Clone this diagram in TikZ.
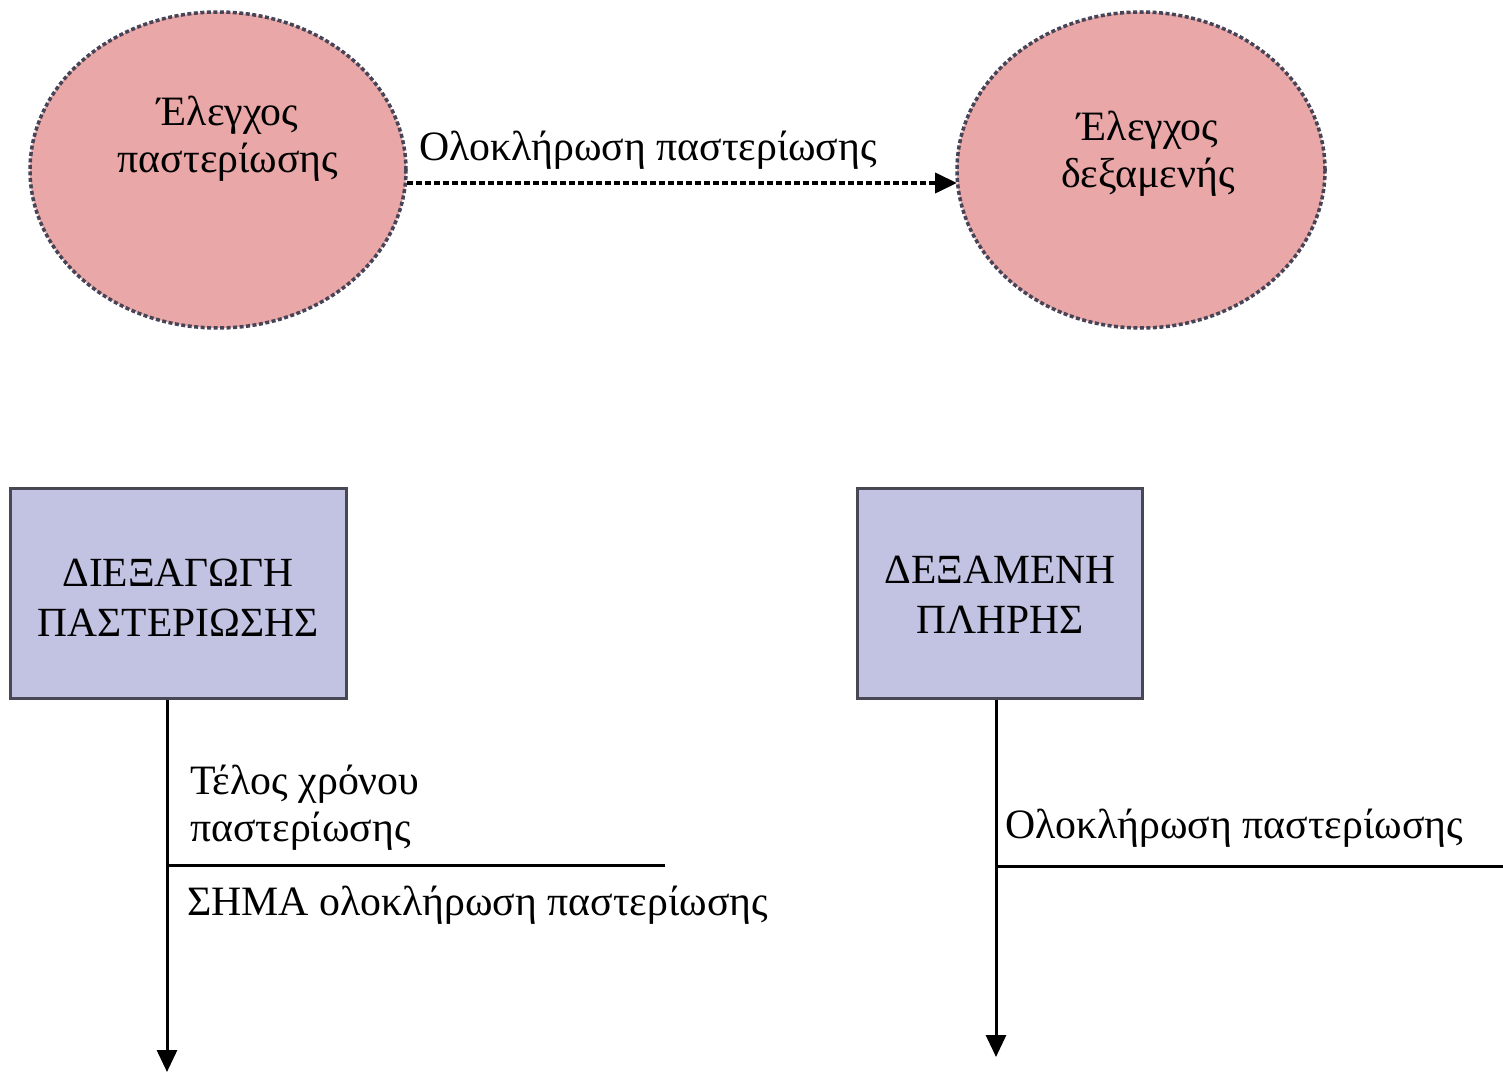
\documentclass[tikz,border=0pt]{standalone}
\usepackage{fontspec}
\setmainfont{Liberation Serif}
\usetikzlibrary{shapes.geometric,arrows.meta}
\definecolor{statefill}{RGB}{233,167,167}
\definecolor{stateline}{RGB}{70,68,86}
\definecolor{boxfill}{RGB}{194,194,226}
\definecolor{boxline}{RGB}{72,72,84}
\tikzset{
  statenode/.style={ellipse, fill=statefill, draw=stateline, line width=3.5pt,
    dash pattern=on 4pt off 2.5pt, inner sep=0pt},
  actbox/.style={rectangle, fill=boxfill, draw=boxline, line width=3pt, inner sep=0pt},
  lbl/.style={font=\fontsize{41.8}{47}\selectfont, inner sep=0pt},
  caps/.style={font=\fontsize{41.5}{50}\selectfont, inner sep=0pt},
  flow/.style={line width=3pt, -{Triangle[width=20pt,length=22pt]}},
  dotflow/.style={line width=4pt, dash pattern=on 6pt off 3pt, -{Triangle[width=20pt,length=22pt]}},
}
\begin{document}
\begin{tikzpicture}[x=1pt,y=-1pt]
\useasboundingbox (0,0) rectangle (1503,1075);
\fill[white] (0,0) rectangle (1503,1075);

% states
\node[statenode, minimum width=376pt, minimum height=316pt] (s1) at (218,170) {};
\node[statenode, minimum width=368pt, minimum height=316pt] (s2) at (1141,170) {};
\node[lbl, align=center] (s1t) at (228,139) {Έλεγχος\\παστερίωσης};
\node[lbl, align=center] (s2t) at (1148,154) {Έλεγχος\\δεξαμενής};

% transition between states
\coordinate (a1) at (407,183);
\coordinate (a2) at (957,183);
\draw[dotflow] (a1) -- (a2);
\node[lbl] (tl) at (648,150) {Ολοκλήρωση παστερίωσης};

% activity boxes
\node[actbox, minimum width=336pt, minimum height=210pt] (b1) at (178,593) {};
\node[actbox, minimum width=285pt, minimum height=210pt] (b2) at (999.5,593) {};
\node[caps, align=center] (b1t) at (178,598) {ΔΙΕΞΑΓΩΓΗ\\ΠΑΣΤΕΡΙΩΣΗΣ};
\node[caps, align=center] (b2t) at (1000,595) {ΔΕΞΑΜΕΝΗ\\ΠΛΗΡΗΣ};

% event lines of the left box
\coordinate (e1) at (167,1072);
\coordinate (h1a) at (167,865);
\coordinate (h1b) at (665,865);
\draw[flow] (b1.south -| e1) -- (e1);
\draw[line width=3pt] (h1a) -- (h1b);
\node[lbl, align=left, anchor=west] (c1) at (190,808) {Τέλος χρόνου\\παστερίωσης};
\node[lbl, anchor=west] (c2) at (187,905) {ΣΗΜΑ ολοκλήρωση παστερίωσης};

% event lines of the right box
\coordinate (e2) at (996,1057);
\coordinate (h2a) at (996,866);
\coordinate (h2b) at (1503,866);
\draw[flow] (b2.south -| e2) -- (e2);
\draw[line width=3pt] (h2a) -- (h2b);
\node[lbl, anchor=west] (c3) at (1005,828) {Ολοκλήρωση παστερίωσης};
\end{tikzpicture}
\end{document}
